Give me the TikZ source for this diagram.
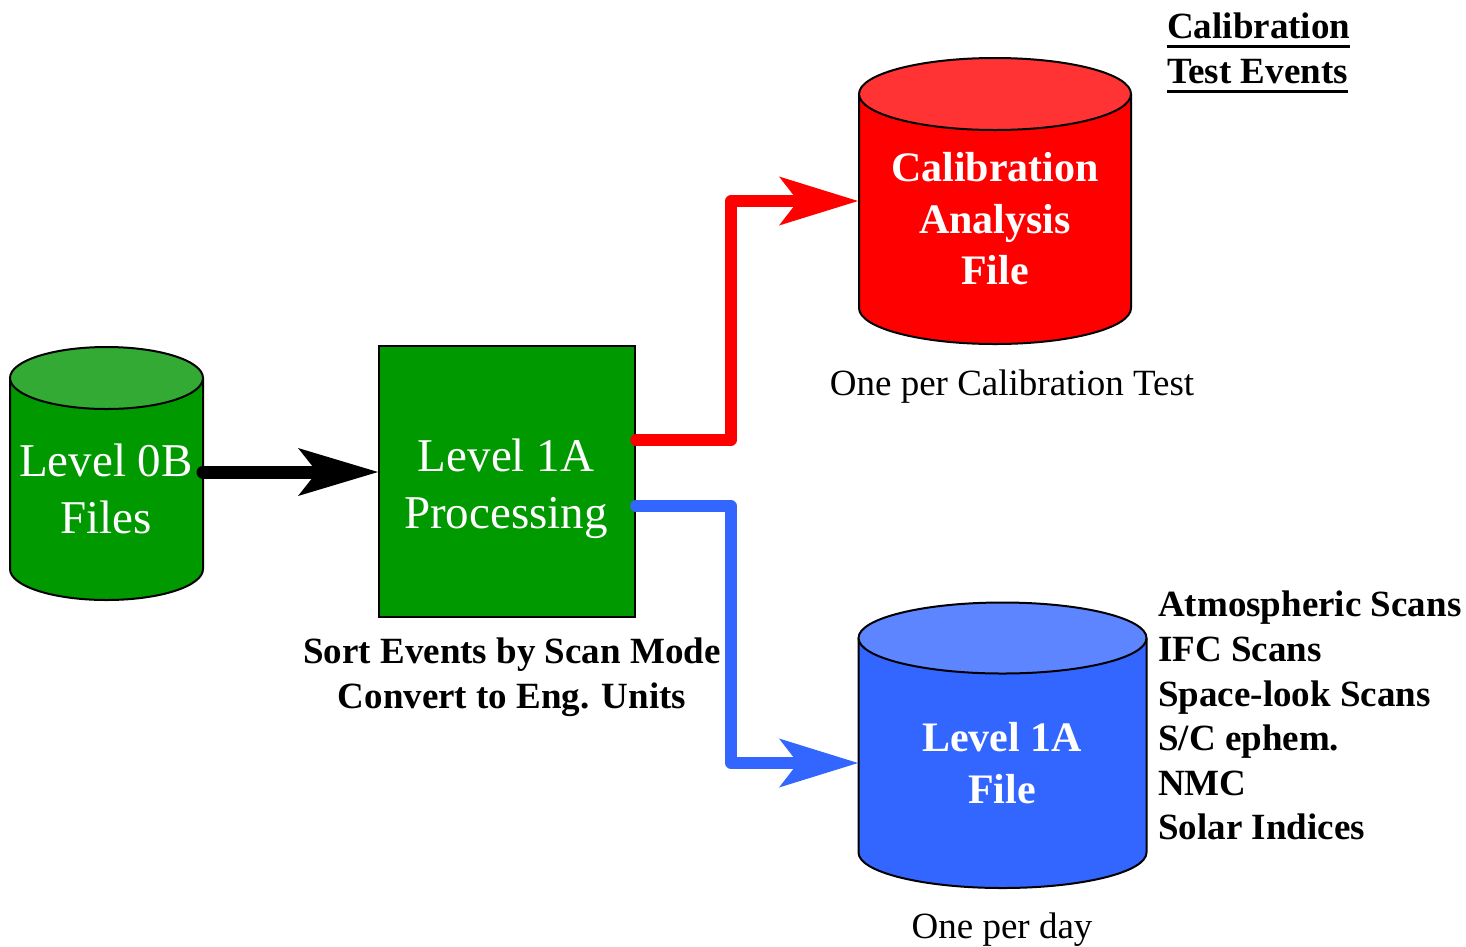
\documentclass[tikz,border=0pt]{standalone}
\usepackage{fontspec}
\setmainfont{Liberation Serif}
\usetikzlibrary{arrows.meta}
\definecolor{gbody}{HTML}{009900}
\definecolor{gtop}{HTML}{33AA33}
\definecolor{rbody}{HTML}{FF0000}
\definecolor{rtop}{HTML}{FF3333}
\definecolor{bbody}{HTML}{3366FF}
\definecolor{btop}{HTML}{5C85FF}
\newcommand\drawcyl[7]{%
  \filldraw[fill=#6, cylline] (#1-#2,#3) -- (#1-#2,#4) arc[start angle=180,end angle=0,x radius=#2,y radius=#5] -- (#1+#2,#3);
  \filldraw[fill=#7, cylline] (#1,#3) ellipse[x radius=#2, y radius=#5];
}
\newcommand\myul[1]{\setbox0\hbox{#1}\rlap{\rule[-9.5pt]{\wd0}{3.5pt}}\box0}
\tikzset{
  cylline/.style={draw=black, line width=2pt},
  intext/.style={text=white, align=center, inner sep=0pt},
  bigreg/.style={font=\fontsize{47}{56.5}\selectfont},
  bigbold/.style={font=\fontsize{42}{51.5}\selectfont\bfseries},
  caption/.style={font=\fontsize{37}{45}\selectfont, inner sep=0pt},
  capbold/.style={font=\fontsize{37}{44.6}\selectfont\bfseries, inner sep=0pt, align=left},
  flow/.style={line width=11.5pt, line cap=round, line join=round,
    -{Stealth[length=79pt, width=49pt, inset=19pt, line width=0pt]}},
}
\begin{document}
\begin{tikzpicture}[x=1pt, y=-1pt]
\useasboundingbox (0,0) rectangle (1466,946);

% Level 0B cylinder
\drawcyl{106.5}{96.5}{378}{569}{31}{gbody}{gtop}
\node[intext, bigreg] (l0b) at (106,489) {Level 0B\\Files};
\coordinate (l0bR) at (203,472);

% Level 1A processing box
\node[draw=black, line width=2pt, fill=gbody, minimum width=256pt, minimum height=271pt, inner sep=0pt] (proc) at (507,481.5) {};
\node[intext, bigreg] (proctext) at (506,489) {Level 1A\\Processing};
\node[caption, font=\fontsize{37}{45}\selectfont\bfseries, align=center] (sort) at (512,677) {Sort Events by Scan Mode\\Convert to Eng. Units};

% Calibration cylinder
\drawcyl{995}{136}{94}{308}{36}{rbody}{rtop}
\node[intext, bigbold] (calib) at (995,219) {Calibration\\Analysis\\File};
\coordinate (calW) at (858,201);
\node[caption, anchor=base] (onecal) at (1012,395) {One per Calibration Test};

% Level 1A file cylinder
\drawcyl{1002.5}{144}{638}{852.5}{35.5}{bbody}{btop}
\node[intext, bigbold] (l1a) at (1002,763) {Level 1A\\File};
\coordinate (fileW) at (858,763);
\node[caption, anchor=base] (oneday) at (1002,938) {One per day};

\node[capbold, anchor=north west] (list) at (1158,591) {Atmospheric Scans\\IFC Scans\\Space-look Scans\\S/C ephem.\\NMC\\Solar Indices};
\node[capbold, anchor=north west, font=\fontsize{37}{45}\selectfont\bfseries] (calevents) at (1167,13) {\myul{Calibration}\\\myul{Test Events}};

% connectors
\coordinate (bend) at (731,0);
\draw[line width=13pt, line cap=round, -{Stealth[length=80pt, width=48pt, inset=19pt, line width=0pt]}] (l0bR) -- (l0bR -| proc.west);
\draw[flow, draw=rbody] ([yshift=41.5pt]proc.east) -- ([yshift=41.5pt]proc.east -| bend) |- (calW);
\draw[flow, draw=bbody] ([yshift=-24.5pt]proc.east) -- ([yshift=-24.5pt]proc.east -| bend) |- (fileW);
\end{tikzpicture}
\end{document}
